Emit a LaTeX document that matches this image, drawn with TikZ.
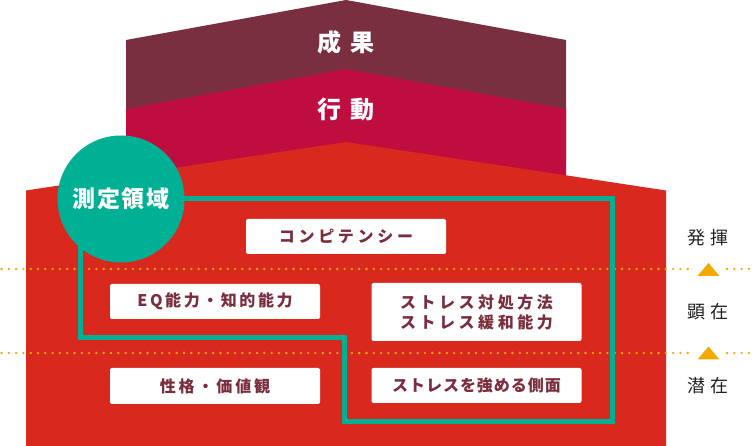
\documentclass[tikz,border=0pt]{standalone}
\usepackage{fontspec}
\newfontfamily\jp{Noto Sans CJK JP}
\newcommand\lsp[2]{{\addfontfeature{LetterSpace=#1}#2}}
\definecolor{topc}{HTML}{7A2F41}
\definecolor{midc}{HTML}{C00D40}
\definecolor{redc}{HTML}{D9291E}
\definecolor{tealc}{HTML}{00B094}
\definecolor{orc}{HTML}{F2AA00}
\definecolor{boxtext}{HTML}{7A2D3D}
\definecolor{labc}{HTML}{222222}
\tikzset{
  boxnode/.style={fill=white, rounded corners=2pt, text=boxtext, align=center, inner sep=0pt,
    font=\jp\bfseries\fontsize{16}{20}\selectfont},
  headtext/.style={text=white, font=\jp\bfseries\fontsize{24}{24}\selectfont, inner sep=0pt},
  sidetext/.style={text=labc, font=\jp\fontsize{18}{18}\selectfont, inner sep=0pt},
  dotline/.style={draw=orc, line width=2.6pt, line cap=round, dash pattern=on 0pt off 7.3pt},
  tealline/.style={draw=tealc, line width=5pt, line join=miter},
  tri/.style={fill=orc},
}
\begin{document}
\begin{tikzpicture}[x=1pt, y=-1pt]
\useasboundingbox (0,0) rectangle (756,446);
% stacked shapes
\fill[topc] (126,40) -- (346,0) -- (566,40) -- (566,160) -- (126,160) -- cycle;
\fill[midc] (126,109) -- (346,69) -- (566,109) -- (566,200) -- (126,200) -- cycle;
\fill[redc] (26,190.5) -- (346,142) -- (666,190.5) -- (666,446) -- (26,446) -- cycle;
\node[headtext] (seika) at (346,42) {\lsp{35}{成果}};
\node[headtext] (kodo) at (346,109) {\lsp{35}{行動}};
% dotted lines
\coordinate (d1a) at (1.5,269); \coordinate (d1b) at (692,269);
\coordinate (d1c) at (727,269); \coordinate (d1d) at (756,269);
\coordinate (d2a) at (1.5,353); \coordinate (d2b) at (692,353);
\coordinate (d2c) at (727,353); \coordinate (d2d) at (756,353);
\draw[dotline] (d1a) -- (d1b); \draw[dotline] (d1c) -- (d1d);
\draw[dotline] (d2a) -- (d2b); \draw[dotline] (d2c) -- (d2d);
\fill[tri] (697.5,276) -- (708.5,263) -- (719.5,276) -- cycle;
\fill[tri] (697.5,359.5) -- (708.5,346.5) -- (719.5,359.5) -- cycle;
% boxes
\node[boxnode, minimum width=200pt, minimum height=35pt] (comp) at (346,236.5) {\lsp{23}{コンピテンシー}};
\node[boxnode, minimum width=210pt, minimum height=35pt] (eq) at (215,301.5) {\lsp{16}{EQ能力・知的能力}};
\node[boxnode, minimum width=210pt, minimum height=58pt] (stra) at (476.5,312) {\lsp{22}{ストレス対処方法}\\\lsp{22}{ストレス緩和能力}};
\node[boxnode, minimum width=210pt, minimum height=36pt] (seikaku) at (215,386) {\lsp{18}{性格・価値観}};
\node[boxnode, minimum width=210pt, minimum height=35pt] (strb) at (476.5,385.5) {\lsp{6}{ストレスを強める側面}};
% side labels
\node[sidetext] (hakki) at (708,238) {\lsp{33}{発揮}};
\node[sidetext] (kenzai) at (708,312) {\lsp{33}{顕在}};
\node[sidetext] (senzai) at (708,386) {\lsp{33}{潜在}};
% circle and teal region
\coordinate (circc) at (121,199);
\draw[tealline] (circc) -- (612,199) -- (612,422) -- (344.5,422) -- (344.5,338) -- (80.5,338) -- (80.5,199) -- cycle;
\node[circle, fill=tealc, minimum size=127pt, inner sep=0pt, text=white,
  font=\jp\bfseries\fontsize{23}{23}\selectfont] (sokutei) at (circc) {\lsp{8}{測定領域}};
\end{tikzpicture}
\end{document}
